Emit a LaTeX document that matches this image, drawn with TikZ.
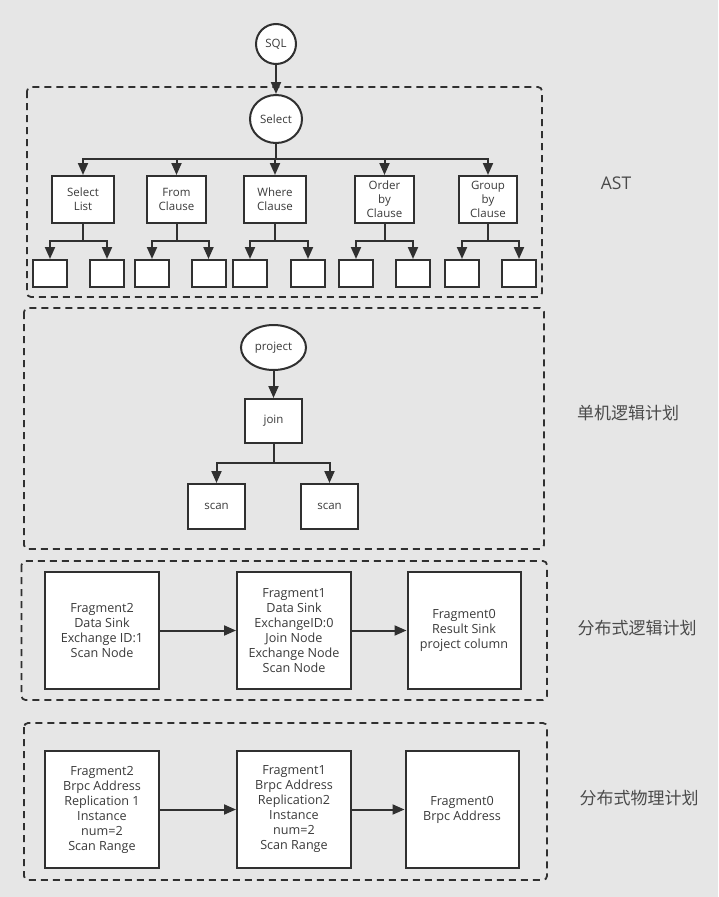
\documentclass[tikz,border=0pt]{standalone}
\usepackage{fontspec}
\setmainfont{Open Sans}
\newfontfamily\cjk{Noto Sans CJK SC}
\usetikzlibrary{arrows.meta,shapes.geometric}
\definecolor{bg}{HTML}{E6E6E6}
\definecolor{ln}{HTML}{303030}
\definecolor{tx}{HTML}{3A3A3A}
\definecolor{lbl}{HTML}{4A4A4A}
\begin{document}
\begin{tikzpicture}[x=1pt,y=-1pt,
  box/.style={draw=ln,line width=2pt,fill=white,inner sep=0pt,align=center,text=tx,font=\fontsize{11.5}{14}\selectfont},
  fbox/.style={box,minimum width=114pt,minimum height=117pt,font=\fontsize{12.6}{15}\selectfont},
  leaf/.style={box,minimum width=34pt,minimum height=27pt},
  ell/.style={box,ellipse},
  group/.style={draw=ln,line width=1.8pt,dash pattern=on 7pt off 5pt,rounded corners=4pt},
  conn/.style={draw=ln,line width=2pt},
  arr/.style={conn,-{Triangle[length=12pt,width=10pt]}},
  side/.style={text=lbl,font=\cjk\fontsize{17}{19}\selectfont}]
\fill[bg] (0,0) rectangle (718,897);
\useasboundingbox (0,0) rectangle (718,897);

% ---------- AST ----------
\draw[group] (27,87) rectangle (542,297);
\node[ell,circle,minimum size=40pt] (sql) at (276,44) {SQL};
\node[ell,minimum width=52pt,minimum height=48pt] (sel) at (276,119) {Select};
\draw[arr] (sql) -- (sel);

\node[box,minimum width=62pt,minimum height=47pt] (sl) at (83,199.5) {Select\\List};
\node[box,minimum width=59pt,minimum height=47pt] (fc) at (176.5,199.5) {From\\Clause};
\node[box,minimum width=62pt,minimum height=47pt] (wc) at (275,199.5) {Where\\Clause};
\node[box,minimum width=59pt,minimum height=47pt] (oc) at (384.5,199.5) {Order\\by\\Clause};
\node[box,minimum width=58pt,minimum height=47pt] (gc) at (488,199.5) {Group\\by\\Clause};

\coordinate (bus1) at (276,159);
\draw[conn] (sel.south) -- (sel.south |- bus1);
\foreach \c in {sl,fc,wc,oc,gc}{
  \draw[arr] (sel.south |- bus1) -| (\c.north);
}

\node[leaf] (l1) at (50,273.5) {};
\node[leaf] (l2) at (107,273.5) {};
\node[leaf] (l3) at (152,273.5) {};
\node[leaf] (l4) at (208.5,273.5) {};
\node[leaf] (l5) at (250,273.5) {};
\node[leaf] (l6) at (308,273.5) {};
\node[leaf] (l7) at (356,273.5) {};
\node[leaf] (l8) at (413,273.5) {};
\node[leaf] (l9) at (462,273.5) {};
\node[leaf] (l10) at (519,273.5) {};

\coordinate (bus2) at (0,241);
\foreach \p/\a/\b in {sl/l1/l2,fc/l3/l4,wc/l5/l6,oc/l7/l8,gc/l9/l10}{
  \draw[conn] (\p.south) -- (\p.south |- bus2);
  \draw[arr] (\p.south |- bus2) -| (\a.north);
  \draw[arr] (\p.south |- bus2) -| (\b.north);
}
\node[side,font=\fontsize{17.5}{19}\selectfont] (ast) at (616,183) {AST};

% ---------- single-machine logical plan ----------
\draw[group] (24,308) rectangle (544,549);
\node[ell,minimum width=65pt,minimum height=45pt] (proj) at (273.5,347.5) {project};
\node[box,minimum width=57pt,minimum height=44pt] (join) at (273.5,421) {join};
\node[box,minimum width=57pt,minimum height=45pt] (s1) at (216.5,506.5) {scan};
\node[box,minimum width=57pt,minimum height=45pt] (s2) at (329.5,506.5) {scan};
\draw[arr] (proj) -- (join);
\coordinate (bus3) at (0,463);
\draw[conn] (join.south) -- (join.south |- bus3);
\draw[arr] (join.south |- bus3) -| (s1.north);
\draw[arr] (join.south |- bus3) -| (s2.north);
\node[side] (l2lbl) at (628,413) {单机逻辑计划};

% ---------- distributed logical plan ----------
\draw[group] (21.5,561) rectangle (547,700);
\node[fbox] (f2) at (102,630.5) {Fragment2\\Data Sink\\Exchange ID:1\\Scan Node};
\node[fbox] (f1) at (294,630.5) {Fragment1\\Data Sink\\ExchangeID:0\\Join Node\\Exchange Node\\Scan Node};
\node[fbox,minimum width=113pt] (f0) at (464,630.5) {Fragment0\\Result Sink\\project column};
\draw[arr] (f2) -- (f1);
\draw[arr] (f1) -- (f0);
\node[side] (l3lbl) at (637,628) {分布式逻辑计划};

% ---------- distributed physical plan ----------
\draw[group] (24,723) rectangle (547,880);
\node[fbox] (p2) at (102,809.5) {Fragment2\\Brpc Address\\Replication 1\\Instance\\num=2\\Scan Range};
\node[fbox] (p1) at (294,809.5) {Fragment1\\Brpc Address\\Replication2\\Instance\\num=2\\Scan Range};
\node[fbox,minimum width=113pt] (p0) at (462,809.5) {Fragment0\\Brpc Address};
\draw[arr] (p2) -- (p1);
\draw[arr] (p1) -- (p0);
\node[side] (l4lbl) at (639,798) {分布式物理计划};
\end{tikzpicture}
\end{document}
